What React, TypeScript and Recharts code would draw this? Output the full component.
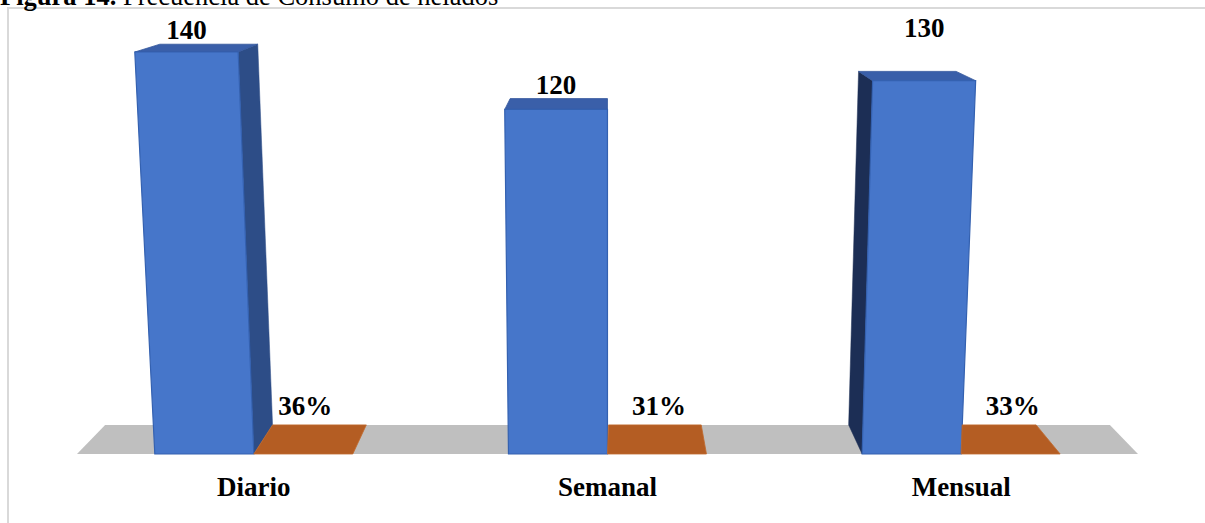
import React from "react";
import { BarChart, Bar, XAxis, YAxis, ReferenceArea } from "recharts";

const categories = ["Diario", "Semanal", "Mensual"];
const cantidades = [140, 120, 130];
const porcentajes = [0.36, 0.31, 0.33];

const data = categories.map((cat, i) => ({
  cat,
  cantidad: cantidades[i],
  porcentaje: porcentajes[i],
}));

const W = 1205;
const H = 523;
const MARGIN = { top: 52, right: 67, bottom: 29, left: 77 };
const CX = MARGIN.left + (W - MARGIN.left - MARGIN.right) / 2;
const VY = -95;
const K = 0.053;
const M = 1.1e-4;
const FONT = '"Liberation Serif", "Times New Roman", serif';
const VALUE_LABEL_LIFT = [0, 0, 29];

type P = [number, number];
const topPt = (X: number, B: number, h: number): P => [X + (X - CX) * M * h, B - h];
const back = (p: P): P => [p[0] + (CX - p[0]) * K, p[1] + (VY - p[1]) * K];
const pts = (arr: P[]) => arr.map((p) => `${p[0]},${p[1]}`).join(" ");

const BlueBar = (props: any) => {
  const { x, y, width, height, index, payload } = props;
  const B = y + height;
  const h = height;
  const fbl: P = [x, B];
  const fbr: P = [x + width, B];
  const ftl = topPt(x, B, h);
  const ftr = topPt(x + width, B, h);
  const btl = back(ftl);
  const btr = back(ftr);
  const bbl = back(fbl);
  const bbr = back(fbr);
  const c = x + width / 2;
  let side = null;
  if (c < CX - 60) {
    side = <polygon points={pts([ftr, btr, bbr, fbr])} fill="#2D4D87" stroke="#2D4D87" strokeWidth={0.5} />;
  } else if (c > CX + 60) {
    side = <polygon points={pts([ftl, btl, bbl, fbl])} fill="#1C2E55" stroke="#1C2E55" strokeWidth={0.5} />;
  }
  const lift = VALUE_LABEL_LIFT[index] || 0;
  return (
    <g>
      {side}
      <polygon points={pts([ftl, ftr, btr, btl])} fill="#3A5FA9" stroke="#33579C" strokeWidth={0.8} />
      <polygon points={pts([fbl, fbr, ftr, ftl])} fill="#4676CA" stroke="#3461B0" strokeWidth={1.2} />
      <text
        x={(ftl[0] + ftr[0]) / 2}
        y={Math.min(btl[1], btr[1]) - 5 - lift}
        textAnchor="middle"
        fontFamily={FONT}
        fontWeight={700}
        fontSize={27}
        fill="#000"
      >
        {payload.cantidad}
      </text>
    </g>
  );
};

const OrangeTile = (props: any) => {
  const { x, y, width, height, payload } = props;
  const B = y + height;
  const fbl: P = [x, B];
  const fbr: P = [x + width, B];
  const bblRaw = back(fbl);
  const bbl: P = [Math.max(bblRaw[0], x + 1), bblRaw[1]];
  const bbr = back(fbr);
  return (
    <g>
      <polygon points={pts([fbl, fbr, bbr, bbl])} fill="#B45D23" stroke="#C0692D" strokeWidth={0.8} />
      <text
        x={x + width / 2 + 2}
        y={bbl[1] - 10}
        textAnchor="middle"
        fontFamily={FONT}
        fontWeight={700}
        fontSize={27}
        fill="#000"
      >
        {`${Math.round(payload.porcentaje * 100)}%`}
      </text>
    </g>
  );
};

const Floor = (props: any) => {
  const { x, y, width, height } = props;
  const B = y + height;
  const fl: P = [x, B];
  const fr: P = [x + width, B];
  return <polygon points={pts([fl, fr, back(fr), back(fl)])} fill="#BFBFBF" />;
};

const CatTick = (props: any) => {
  const { x, y, payload } = props;
  return (
    <text
      x={x}
      y={y + 42}
      textAnchor="middle"
      fontFamily={FONT}
      fontWeight={700}
      fontSize={27}
      fill="#000"
    >
      {payload.value}
    </text>
  );
};

export default function App() {
  return (
    <div
      style={{
        position: "absolute",
        left: 0,
        top: 0,
        width: W,
        height: H,
        overflow: "hidden",
        background: "#fff",
      }}
    >
      <svg width={W} height={H} style={{ position: "absolute", left: 0, top: 0 }}>
        <rect x={8} y={8} width={W + 10} height={H + 10} fill="none" stroke="#D9D9D9" strokeWidth={2} />
        <text x={0} y={5} fontFamily={FONT} fontSize={26.5} fill="#000">
          <tspan fontWeight={700}>Figura 14.</tspan>
          <tspan> Frecuencia de Consumo de helados</tspan>
        </text>
      </svg>
      <div style={{ position: "absolute", left: 0, top: 0 }}>
        <BarChart
          width={W}
          height={H}
          data={data}
          margin={MARGIN}
          barCategoryGap="22%"
          barGap={0}
        >
          <XAxis
            dataKey="cat"
            height={40}
            axisLine={false}
            tickLine={false}
            tickSize={0}
            tickMargin={0}
            tick={<CatTick />}
            interval={0}
          />
          <YAxis hide domain={[0, 140]} />
          <ReferenceArea y1={0} y2={1} shape={<Floor />} ifOverflow="visible" />
          <Bar dataKey="cantidad" shape={<BlueBar />} isAnimationActive={false} />
          <Bar dataKey="porcentaje" shape={<OrangeTile />} isAnimationActive={false} />
        </BarChart>
      </div>
    </div>
  );
}
